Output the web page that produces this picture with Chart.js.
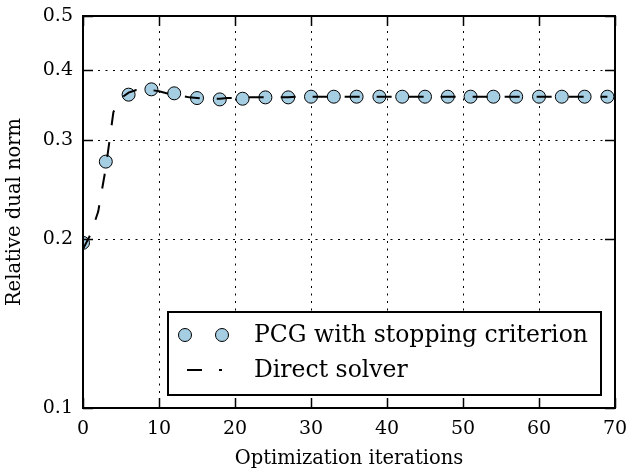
<!DOCTYPE html>
<html>
<head>
<meta charset="utf-8">
<script src="https://cdn.jsdelivr.net/npm/chart.js@4.4.1/dist/chart.umd.min.js"></script>
<style>
  html, body { margin: 0; padding: 0; background: #fff; }
  #wrap { width: 632px; height: 471px; }
</style>
</head>
<body>
<div id="wrap"><canvas id="myChart" width="632" height="471"></canvas></div>
<script>
// data
const pcgIterations = [0, 3, 6, 9, 12, 15, 18, 21, 24, 27, 30, 33, 36, 39, 42, 45, 48, 51, 54, 57, 60, 63, 66, 69];
const pcgNorm = [0.197, 0.275, 0.362, 0.370, 0.364, 0.357, 0.355, 0.356, 0.358, 0.358, 0.359, 0.359,
  0.359, 0.359, 0.359, 0.359, 0.359, 0.359, 0.359, 0.359, 0.359, 0.359, 0.359, 0.359];

const directIterations = [0, 1, 2, 3, 4, 5, 6, 7, 8, 9, 10, 11, 12, 13, 14, 15, 16, 17, 18, 19,
  20, 21, 22, 23, 24, 25, 26, 27, 28, 29, 30, 31, 32, 33, 34, 35, 36, 37, 38, 39,
  40, 41, 42, 43, 44, 45, 46, 47, 48, 49, 50, 51, 52, 53, 54, 55, 56, 57, 58, 59,
  60, 61, 62, 63, 64, 65, 66, 67, 68, 69];
const directNorm = [0.192, 0.204, 0.224, 0.268, 0.337, 0.357, 0.365, 0.369, 0.370, 0.369,
  0.367, 0.364, 0.362, 0.360, 0.358, 0.357, 0.356, 0.356, 0.356, 0.357,
  0.357, 0.357, 0.358, 0.358, 0.358, 0.358, 0.358, 0.358, 0.359, 0.359,
  0.359, 0.359, 0.359, 0.359, 0.359, 0.359, 0.359, 0.359, 0.359, 0.359,
  0.359, 0.359, 0.359, 0.359, 0.359, 0.359, 0.359, 0.359, 0.359, 0.359,
  0.359, 0.359, 0.359, 0.359, 0.359, 0.359, 0.359, 0.359, 0.359, 0.359,
  0.359, 0.359, 0.359, 0.359, 0.359, 0.359, 0.359, 0.359, 0.359, 0.359];

const xTicks = [0, 10, 20, 30, 40, 50, 60, 70];
const yTicks = [0.1, 0.2, 0.3, 0.4, 0.5];
const seriesLabels = ['PCG with stopping criterion', 'Direct solver'];
const axisTitles = ['Optimization iterations', 'Relative dual norm'];

const FONT = "'DejaVu Serif', 'Liberation Serif', serif";

const pcgPoints = pcgIterations.map((x, i) => ({ x, y: pcgNorm[i] }));
const directPoints = directIterations.map((x, i) => ({ x, y: directNorm[i] }));

// matplotlib-like frame, inward ticks and boxed legend
const framePlugin = {
  id: 'frame',
  afterDatasetsDraw(chart) {
    const { ctx, chartArea: a, scales } = chart;
    const tl = 10;
    ctx.save();
    ctx.strokeStyle = '#000';
    ctx.lineWidth = 1.5;
    ctx.beginPath();
    xTicks.forEach((v) => {
      const px = Math.round(scales.x.getPixelForValue(v)) + 0.5;
      ctx.moveTo(px, a.bottom); ctx.lineTo(px, a.bottom - tl);
      ctx.moveTo(px, a.top); ctx.lineTo(px, a.top + tl);
    });
    yTicks.forEach((v) => {
      const py = Math.round(scales.y.getPixelForValue(v)) + 0.5;
      ctx.moveTo(a.left, py); ctx.lineTo(a.left + tl, py);
      ctx.moveTo(a.right, py); ctx.lineTo(a.right - tl, py);
    });
    ctx.stroke();

    ctx.lineWidth = 2;
    ctx.strokeRect(a.left, a.top, a.right - a.left, a.bottom - a.top);

    // legend
    const pcg = chart.data.datasets[1];
    const direct = chart.data.datasets[0];
    const bx = 168, by = 312, bw = 433, bh = 83;
    ctx.fillStyle = '#fff';
    ctx.fillRect(bx, by, bw, bh);
    ctx.lineWidth = 2;
    ctx.strokeRect(bx, by, bw, bh);

    const row1 = 335, row2 = 370;
    [185, 222].forEach((mx) => {
      ctx.beginPath();
      ctx.arc(mx, row1, pcg.pointRadius, 0, Math.PI * 2);
      ctx.fillStyle = pcg.pointBackgroundColor;
      ctx.fill();
      ctx.lineWidth = pcg.pointBorderWidth;
      ctx.strokeStyle = pcg.pointBorderColor;
      ctx.stroke();
    });
    ctx.beginPath();
    ctx.setLineDash(direct.borderDash);
    ctx.lineWidth = direct.borderWidth;
    ctx.strokeStyle = direct.borderColor;
    ctx.moveTo(187, row2); ctx.lineTo(222, row2);
    ctx.stroke();
    ctx.setLineDash([]);

    ctx.fillStyle = '#000';
    ctx.font = '23.5px ' + FONT;
    ctx.textBaseline = 'alphabetic';
    ctx.textAlign = 'left';
    ctx.fillText(seriesLabels[0], 254, 342);
    ctx.fillText(seriesLabels[1], 254, 377);
    ctx.restore();
  }
};

new Chart(document.getElementById('myChart'), {
  type: 'line',
  data: {
    datasets: [
      {
        label: seriesLabels[1],
        data: directPoints,
        borderColor: '#000',
        borderWidth: 2,
        borderDash: [15, 17],
        pointRadius: 0,
        fill: false,
        tension: 0,
        order: 0,
      },
      {
        label: seriesLabels[0],
        data: pcgPoints,
        showLine: false,
        pointRadius: 6.5,
        pointBackgroundColor: '#a6cee3',
        pointBorderColor: '#000',
        pointBorderWidth: 1,
        clip: 0,
        order: 1,
      },
    ],
  },
  options: {
    responsive: false,
    animation: false,
    devicePixelRatio: 1,
    layout: { padding: { top: 16, right: 17, left: 0, bottom: 0 } },
    plugins: {
      legend: { display: false },
      tooltip: { enabled: false },
    },
    scales: {
      x: {
        type: 'linear',
        min: 0,
        max: 70,
        afterBuildTicks: (s) => { s.ticks = xTicks.map((v) => ({ value: v })); },
        afterFit: (s) => { s.height = 63; s.paddingLeft = 0; s.paddingRight = 0; },
        grid: { color: '#000', lineWidth: 1, drawTicks: false },
        border: { display: false, dash: [2, 5.5] },
        ticks: { color: '#000', padding: 10, autoSkip: false, maxRotation: 0, font: { family: FONT, size: 19 } },
        title: { display: true, text: axisTitles[0], color: '#000', font: { family: FONT, size: 19.5 }, padding: { top: 0, bottom: 0 } },
      },
      y: {
        type: 'logarithmic',
        min: 0.1,
        max: 0.5,
        afterBuildTicks: (s) => { s.ticks = yTicks.map((v) => ({ value: v })); },
        afterFit: (s) => { s.width = 83; s.paddingTop = 0; s.paddingBottom = 0; },
        grid: { color: '#000', lineWidth: 1, drawTicks: false },
        border: { display: false, dash: [2, 5.5] },
        ticks: { color: '#000', padding: 10, autoSkip: false, font: { family: FONT, size: 19 }, callback: (v) => Number(v).toFixed(1) },
        title: { display: true, text: axisTitles[1], color: '#000', font: { family: FONT, size: 19.5 }, padding: { top: 3, bottom: 0 } },
      },
    },
  },
  plugins: [framePlugin],
});
</script>
</body>
</html>
